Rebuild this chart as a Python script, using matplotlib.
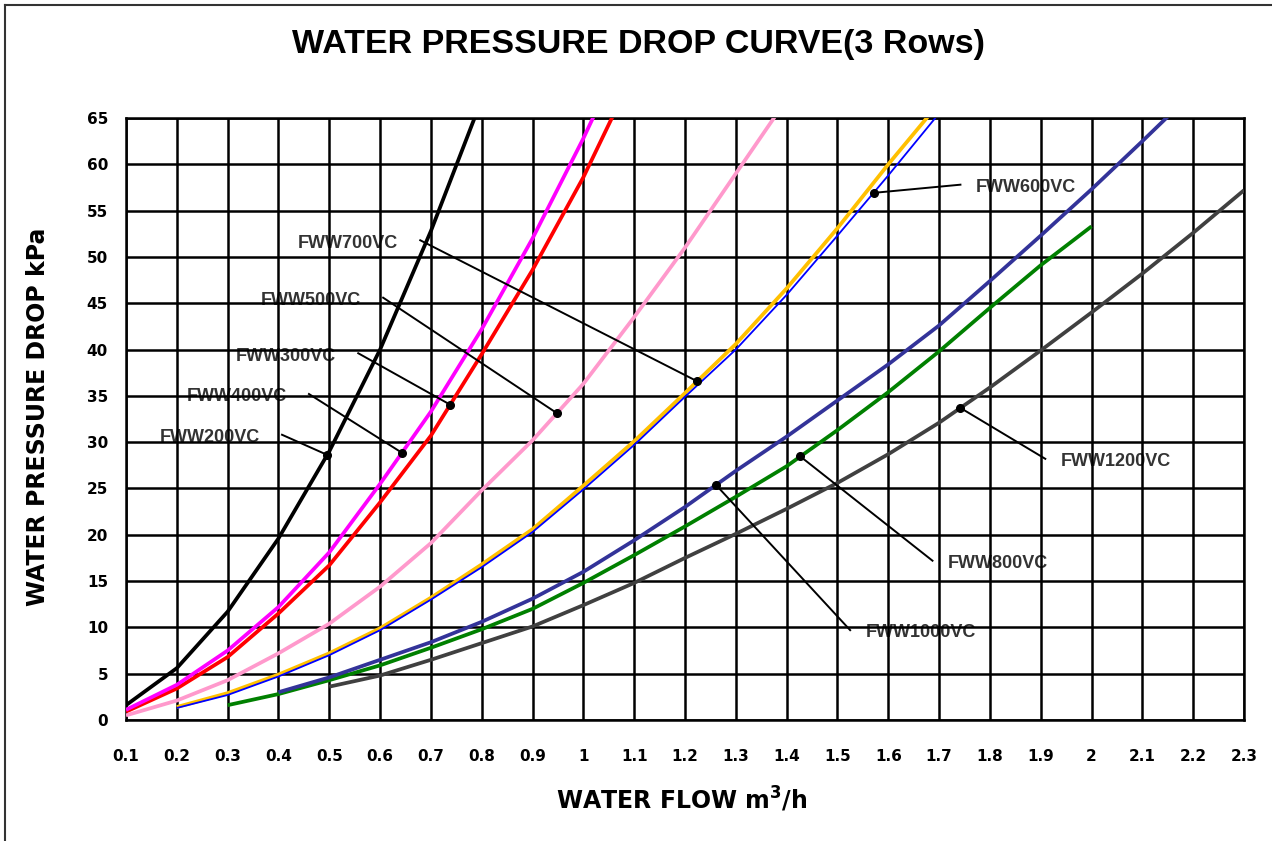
import numpy as np
import matplotlib
matplotlib.use('Agg')
import matplotlib.pyplot as plt
from matplotlib.lines import Line2D

plt.rcParams['font.family'] = ['Liberation Sans', 'DejaVu Sans']

# ── Data ───────────────────────────────────────────────────────────────────────
flow_200 = [0.1, 0.2, 0.3, 0.4, 0.5, 0.6, 0.7, 0.8]
dp_200 = [1.6, 5.6, 11.7, 19.6, 29.0, 40.0, 52.8, 67.0]

flow_300 = [0.1, 0.2, 0.3, 0.4, 0.5, 0.6, 0.7, 0.8, 0.9, 1.0, 1.1]
dp_300 = [0.9, 3.4, 6.8, 11.5, 16.7, 23.5, 30.7, 39.5, 48.6, 58.6, 70.0]

flow_400 = [0.1, 0.2, 0.3, 0.4, 0.5, 0.6, 0.7, 0.8, 0.9, 1.0, 1.1]
dp_400 = [1.1, 3.8, 7.5, 12.2, 18.1, 25.5, 33.3, 42.2, 52.0, 62.8, 74.5]

flow_500 = [0.1, 0.2, 0.3, 0.4, 0.5, 0.6, 0.7, 0.8, 0.9, 1.0, 1.1, 1.2, 1.3, 1.4]
dp_500 = [0.5, 2.1, 4.3, 7.2, 10.4, 14.4, 19.1, 24.8, 30.2, 36.3, 43.5, 51.0, 59.0, 67.0]

flow_600 = [0.2, 0.3, 0.4, 0.5, 0.6, 0.7, 0.8, 0.9, 1.0, 1.1, 1.2, 1.3, 1.4, 1.5, 1.6, 1.7]
dp_600 = [1.3, 2.7, 4.7, 7.0, 9.7, 13.0, 16.5, 20.3, 24.9, 29.7, 34.9, 40.0, 45.9, 52.3, 58.8, 65.5]

flow_700 = [0.2, 0.3, 0.4, 0.5, 0.6, 0.7, 0.8, 0.9, 1.0, 1.1, 1.2, 1.3, 1.4, 1.5, 1.6, 1.7]
dp_700 = [1.4, 2.9, 4.9, 7.2, 9.9, 13.2, 16.8, 20.6, 25.3, 30.1, 35.3, 40.6, 46.6, 53.1, 60.0, 66.6]

flow_800 = [0.3, 0.4, 0.5, 0.6, 0.7, 0.8, 0.9, 1.0, 1.1, 1.2, 1.3, 1.4, 1.5, 1.6, 1.7, 1.8, 1.9, 2.0]
dp_800 = [1.6, 2.8, 4.3, 5.9, 7.8, 9.8, 12.0, 14.8, 17.8, 20.9, 24.1, 27.4, 31.3, 35.4, 39.8, 44.5, 49.1, 53.3]

flow_1000 = [0.4, 0.5, 0.6, 0.7, 0.8, 0.9, 1.0, 1.1, 1.2, 1.3, 1.4, 1.5, 1.6, 1.7, 1.8, 1.9, 2.0, 2.1, 2.2]
dp_1000 = [3.0, 4.6, 6.5, 8.4, 10.6, 13.1, 16.0, 19.4, 23.0, 26.9, 30.6, 34.5, 38.4, 42.6, 47.4, 52.3, 57.3, 62.5, 67.8]

flow_1200 = [0.5, 0.6, 0.7, 0.8, 0.9, 1.0, 1.1, 1.2, 1.3, 1.4, 1.5, 1.6, 1.7, 1.8, 1.9, 2.0, 2.1, 2.2, 2.3]
dp_1200 = [3.6, 4.8, 6.5, 8.3, 10.1, 12.4, 14.8, 17.5, 20.1, 22.8, 25.6, 28.7, 32.1, 35.9, 39.9, 44.0, 48.2, 52.6, 57.2]

x_ticks = [round(0.1 * i, 1) for i in range(1, 24)]
x_tick_labels = ['1' if t == 1.0 else '2' if t == 2.0 else f'{t:g}' for t in x_ticks]
y_ticks = list(range(0, 70, 5))

# (label, flow, dp, colour, width, zorder)
series = [
    ('FWW200VC', flow_200, dp_200, '#000000', 2.7, 3),
    ('FWW300VC', flow_300, dp_300, '#FF0000', 2.7, 3),
    ('FWW400VC', flow_400, dp_400, '#FF00FF', 2.7, 3),
    ('FWW500VC', flow_500, dp_500, '#FF99CC', 2.7, 3),
    ('FWW600VC', flow_600, dp_600, '#0000FF', 1.3, 3),
    ('FWW700VC', flow_700, dp_700, '#FFC000', 2.7, 2.9),
    ('FWW800VC', flow_800, dp_800, '#008000', 2.7, 3),
    ('FWW1000VC', flow_1000, dp_1000, '#333399', 2.7, 3),
    ('FWW1200VC', flow_1200, dp_1200, '#404040', 2.7, 3),
]

# callouts: name -> (flow of dot on curve, line end (x, y), text side)
callouts = {
    'FWW200VC': (0.496, (0.407, 30.8), 'left'),
    'FWW400VC': (0.643, (0.460, 35.2), 'left'),
    'FWW300VC': (0.738, (0.557, 39.6), 'left'),
    'FWW500VC': (0.948, (0.606, 45.6), 'left'),
    'FWW700VC': (1.224, (0.679, 51.8), 'left'),
    'FWW600VC': (1.571, (1.742, 57.8), 'right'),
    'FWW1200VC': (1.742, (1.909, 28.2), 'right'),
    'FWW800VC': (1.427, (1.687, 17.2), 'right'),
    'FWW1000VC': (1.261, (1.525, 9.7), 'right'),
}

# ── Figure ────────────────────────────────────────────────────────────────────
fig = plt.figure(figsize=(12.72, 8.41), dpi=100)
ax = fig.add_axes([126 / 1272, 1 - 720 / 841, (1244 - 126) / 1272, (720 - 118) / 841])

# outer chart frame (only left and top edges visible)
fig.add_artist(Line2D([5 / 1272, 5 / 1272], [0, 1 - 5 / 841], color='#333333', lw=1.5,
                      transform=fig.transFigure))
fig.add_artist(Line2D([5 / 1272, 1], [1 - 5 / 841, 1 - 5 / 841], color='#333333', lw=1.5,
                      transform=fig.transFigure))

curves = {}
for name, fl, dp, col, lw, z in series:
    ax.plot(fl, dp, '-', color=col, lw=lw, zorder=z, solid_capstyle='butt',
            solid_joinstyle='round')
    curves[name] = (fl, dp)

for name, (fx, (lx, ly), side) in callouts.items():
    fl, dp = curves[name]
    fy = np.interp(fx, fl, dp)
    ax.plot([fx, lx], [fy, ly], '-', color='k', lw=1.4, zorder=4)
    ax.plot(fx, fy, 'o', color='k', ms=5.5, zorder=5)
    if side == 'left':
        ax.text(lx - 0.043, ly - 0.3, name, ha='right', va='center', fontsize=13,
                fontweight='bold', color='#333333', zorder=0.4)
    else:
        ax.text(lx + 0.03, ly - 0.3, name, ha='left', va='center', fontsize=13,
                fontweight='bold', color='#333333', zorder=0.4)

ax.set_xlim(0.1, 2.3)
ax.set_ylim(0, 65)
ax.set_xticks(x_ticks)
ax.set_xticklabels(x_tick_labels)
ax.set_yticks(y_ticks)
ax.set_axisbelow(True)
ax.grid(True, color='k', lw=1.8)
for sp in ax.spines.values():
    sp.set_color('k')
    sp.set_linewidth(1.8)
ax.tick_params(length=0, pad=21)
ax.tick_params(axis='y', pad=13)
for lab in ax.get_xticklabels() + ax.get_yticklabels():
    lab.set_fontweight('bold')
    lab.set_family('DejaVu Sans')
    lab.set_fontsize(11)

fig.text(639 / 1272, 1 - 45 / 841, 'WATER PRESSURE DROP CURVE(3 Rows)', ha='center', va='center',
         fontsize=24.5, fontweight='bold')
fig.text(38 / 1272, 1 - 417 / 841, 'WATER PRESSURE DROP kPa', ha='center', va='center',
         rotation=90, fontsize=17, fontweight='bold', family='DejaVu Sans')
fig.text(682 / 1272, 1 - 800 / 841, 'WATER FLOW m$^\\mathbf{3}$/h', ha='center', va='center',
         fontsize=17, fontweight='bold', family='DejaVu Sans')

fig.savefig('out.png', dpi=100)
